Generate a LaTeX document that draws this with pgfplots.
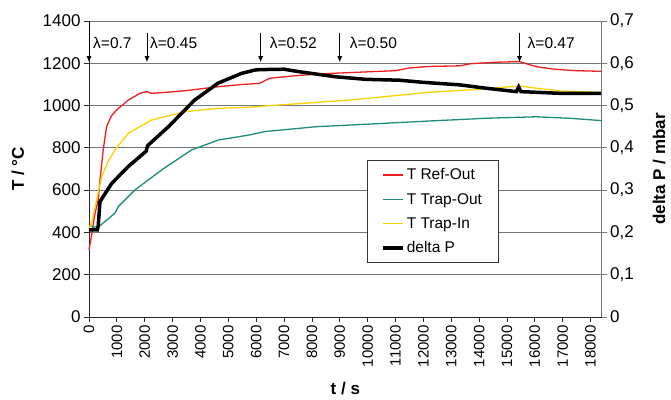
\documentclass[border=0pt]{standalone}
\usepackage{pgfplots}
\pgfplotsset{compat=1.18}
\usepackage{fontspec}
\setmainfont{Liberation Sans}
\usetikzlibrary{arrows.meta}
\definecolor{cRed}{RGB}{240,30,30}
\definecolor{cTeal}{RGB}{30,140,125}
\definecolor{cYel}{RGB}{250,210,0}
\definecolor{cGrid}{RGB}{110,120,120}
\begin{document}
\begin{tikzpicture}
\path[use as bounding box] (-89pt,-82pt) rectangle (582pt,317pt);
\begin{axis}[
  at={(0,0)}, anchor=south west,
  width=512.7pt, height=296pt, scale only axis,
  xmin=0, xmax=18400, ymin=0, ymax=1400,
  xtick={0,1000,...,18000}, ytick={0,200,...,1400},
  axis x line*=bottom, axis y line*=left,
  axis line style={black!85, line width=0.9pt},
  ymajorgrids, grid style={cGrid, line width=1pt},
  tick align=outside, major tick length=5pt,
  tick style={black!85, line width=0.8pt},
  x tick label style={rotate=90, anchor=east, font=\fontsize{15}{15}\selectfont},
  y tick label style={font=\fontsize{17}{17}\selectfont},
  xlabel={\textbf{t / s}}, ylabel={\textbf{T / °C}},
  xlabel style={at={(axis description cs:0.5,-0.24)}, anchor=center, font=\fontsize{17}{17}\selectfont},
  ylabel style={at={(axis description cs:-0.1385,0.5)}, anchor=center, font=\fontsize{17}{17}\selectfont},
  scaled x ticks=false, clip=false,
  /pgf/number format/1000 sep={},
  /pgf/number format/assume math mode=true,
]
\addplot[cRed, line width=1.3pt] coordinates {
(0,317) (100,390) (200,480) (330,554) (420,680) (510,790) (630,900) (800,950)
(990,979) (1410,1026) (1830,1058) (2080,1066) (2240,1058) (2800,1063) (3430,1070)
(4630,1089) (5500,1100) (6120,1105) (6480,1129) (7300,1140) (8150,1149) (9350,1156)
(11000,1165) (11500,1178) (12200,1185) (13300,1188) (13700,1198) (14600,1205)
(15450,1208) (16050,1184) (16700,1172) (17480,1165) (18380,1162)};
\addplot[cTeal, line width=1.3pt] coordinates {
(0,432) (200,425) (395,432) (650,460) (930,491) (1050,522) (1650,601) (2600,695)
(3680,790) (4640,837) (5760,861) (6310,877) (8150,900) (10000,912) (12210,927)
(14250,940) (16050,947) (17240,940) (18380,929)};
\addplot[cYel, line width=1.3pt] coordinates {
(0,420) (97,444) (250,540) (455,664) (700,740) (933,790) (1410,869) (2250,932)
(3440,971) (4640,987) (5760,992) (6310,998) (9350,1026) (12210,1063) (14010,1077)
(15450,1093) (16050,1082) (17000,1068) (18380,1062)};
\draw[-{Latex[length=6pt,width=5pt]}, line width=0.9pt] (axis cs:0,1400) -- (axis cs:0,1205);
\draw[-{Latex[length=6pt,width=5pt]}, line width=0.9pt] (axis cs:2080,1345) -- (axis cs:2080,1205);
\draw[-{Latex[length=6pt,width=5pt]}, line width=0.9pt] (axis cs:6160,1345) -- (axis cs:6160,1205);
\draw[-{Latex[length=6pt,width=5pt]}, line width=0.9pt] (axis cs:9000,1345) -- (axis cs:9000,1205);
\draw[-{Latex[length=6pt,width=5pt]}, line width=0.9pt] (axis cs:15450,1345) -- (axis cs:15450,1205);
\begin{scope}[every node/.style={anchor=west, inner sep=0pt, font=\fontsize{15.5}{15.5}\selectfont}]
\node at (axis cs:0,1296) [xshift=4pt] {λ=0.7};
\node at (axis cs:2080,1296) [xshift=3pt] {λ=0.45};
\node at (axis cs:6160,1296) [xshift=9pt] {λ=0.52};
\node at (axis cs:9000,1296) [xshift=10pt] {λ=0.50};
\node at (axis cs:15450,1296) [xshift=8pt] {λ=0.47};
\end{scope}
\end{axis}
\begin{axis}[
  at={(0,0)}, anchor=south west,
  width=512.7pt, height=296pt, scale only axis,
  xmin=0, xmax=18400, ymin=0, ymax=0.7,
  hide x axis, axis y line*=right,
  axis line style={cGrid, line width=0.9pt},
  ytick={0,0.1,0.2,0.3,0.4,0.5,0.6,0.7},
  tick align=outside, major tick length=5pt,
  tick style={cGrid, line width=0.8pt},
  y tick label style={font=\fontsize{17}{17}\selectfont},
  yticklabel style={/pgf/number format/.cd, fixed, precision=1, use comma},
  /pgf/number format/assume math mode=true,
  ylabel={\textbf{delta P / mbar}},
  ylabel style={at={(axis description cs:1.112,0.5)}, anchor=center, font=\fontsize{17}{17}\selectfont},
  legend cell align=left,
  legend style={at={(axis description cs:0.542,0.530)}, anchor=north west,
    draw=black!80, line width=0.8pt, fill=white,
    font=\fontsize{15.5}{15.5}\selectfont,
    row sep=8pt, inner xsep=14pt, inner ysep=6pt},
  legend image code/.code={\draw[#1] (0pt,0pt) -- (20pt,0pt);},
]
\addlegendimage{cRed, line width=1.3pt}\addlegendentry{T Ref-Out}
\addlegendimage{cTeal, line width=1.3pt}\addlegendentry{T Trap-Out}
\addlegendimage{cYel, line width=1.3pt}\addlegendentry{T Trap-In}
\addplot[black, line width=3.5pt] coordinates {
(0,0.206) (300,0.206) (330,0.215) (395,0.273) (815,0.316) (1410,0.356) (2050,0.392)
(2100,0.405) (2850,0.45) (3790,0.513) (4630,0.553) (5470,0.576) (5950,0.584)
(6120,0.585) (7000,0.586) (7550,0.580) (8870,0.568) (9950,0.562) (11140,0.560)
(11980,0.555) (13300,0.549) (14250,0.541) (15340,0.533) (15420,0.544) (15500,0.533)
(16880,0.529) (18380,0.529)};
\addlegendentry{delta P}
\end{axis}
\end{tikzpicture}
\end{document}
